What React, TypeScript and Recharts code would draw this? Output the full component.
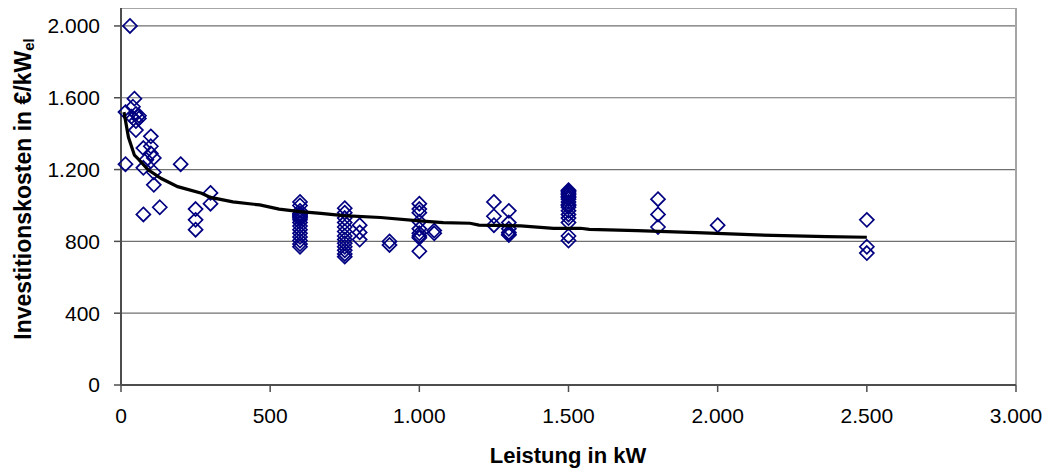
import React from 'react';
import { ScatterChart, Scatter, XAxis, YAxis, CartesianGrid, ReferenceLine } from 'recharts';

// Installed capacity of each plant (kW) and its specific investment cost (€/kW_el)
const plantCapacityKw = [
  15, 15, 30, 35, 40, 45, 50, 50, 60, 60, 50, 75, 75, 75, 85, 100, 100, 100, 110, 110, 110, 130, 200, 250, 250, 250, 300, 300,
  600, 600, 600, 600, 600, 600, 600, 600, 600, 600, 600, 600, 600, 600, 600, 600, 600, 600,
  750, 750, 750, 750, 750, 750, 750, 750, 750, 750, 750, 750, 750,
  800, 800, 800,
  900, 900,
  1000, 1000, 1000, 1000, 1000, 1000, 1000, 1000, 1000,
  1050, 1050,
  1250, 1250, 1250,
  1300, 1300, 1300, 1300, 1300, 1300,
  1500, 1500, 1500, 1500, 1500, 1500, 1500, 1500, 1500, 1500, 1500, 1500, 1500, 1500, 1500, 1500, 1500, 1500,
  1800, 1800, 1800,
  2000,
  2500, 2500, 2500,
];

const plantCostEurPerKw = [
  1520, 1230, 2000, 1495, 1550, 1595, 1510, 1470, 1500, 1485, 1420, 1320, 1210, 950, 1255, 1385, 1330, 1290, 1265, 1185, 1115, 990, 1230, 980, 920, 865, 1070, 1010,
  1020, 1000, 970, 955, 950, 945, 940, 935, 930, 920, 905, 885, 865, 845, 825, 805, 785, 770,
  985, 960, 930, 905, 880, 855, 830, 810, 790, 770, 750, 730, 715,
  890, 850, 810,
  800, 780,
  1010, 980, 960, 910, 870, 845, 830, 820, 745,
  860, 845,
  1020, 940, 890,
  970, 905, 870, 850, 840, 835,
  1085, 1080, 1075, 1065, 1060, 1050, 1045, 1035, 1020, 1005, 1000, 990, 970, 950, 930, 905, 830, 805,
  1035, 950, 880,
  890,
  920, 770, 735,
];

// Trend curve through the cost data
const trendCapacityKw = [10, 25, 45, 60, 90, 135, 190, 270, 300, 375, 465, 530, 600, 670, 745, 870, 1000, 1080, 1170, 1200, 1340, 1450, 1540, 1570, 1730, 1930, 2130, 2365, 2500];
const trendCostEurPerKw = [1520, 1380, 1280, 1255, 1200, 1150, 1105, 1068, 1045, 1020, 1003, 980, 966, 956, 943, 933, 914, 904, 901, 891, 886, 873, 873, 867, 860, 849, 836, 826, 823];

const xTicks = [0, 500, 1000, 1500, 2000, 2500, 3000];
const yTicks = [0, 400, 800, 1200, 1600, 2000];

const plants = plantCapacityKw.map((x, i) => ({ x, y: plantCostEurPerKw[i] }));
const trend = trendCapacityKw.map((x, i) => ({ x, y: trendCostEurPerKw[i] }));

const FONT = '"Liberation Sans", Arial, sans-serif';
const AXIS_COLOR = '#4d4d4d';

// German thousands separator: 2000 -> "2.000"
const formatDe = (v: number) => String(v).replace(/\B(?=(\d{3})+(?!\d))/g, '.');

const Diamond = (props: any) => {
  const { cx, cy } = props;
  if (cx == null || cy == null) return null;
  const r = 7;
  return (
    <polygon
      points={`${cx},${cy - r} ${cx + r},${cy} ${cx},${cy + r} ${cx - r},${cy}`}
      fill="none"
      stroke="#000080"
      strokeWidth={1.7}
    />
  );
};

const NoDot = () => null;

const YTitle = () => (
  <text
    x={15}
    y={181}
    transform="rotate(-90 15 181)"
    textAnchor="middle"
    dominantBaseline="central"
    fontFamily={FONT}
    fontWeight="bold"
    fontSize={23}
    fill="#000"
  >
    Investitionskosten in €/kW
    <tspan fontSize={15} dy={5}>el</tspan>
  </text>
);

const XTitle = () => (
  <text
    x={560}
    y={455}
    textAnchor="middle"
    fontFamily={FONT}
    fontWeight="bold"
    fontSize={22}
    fill="#000"
  >
    Leistung in kW
  </text>
);

export default function App() {
  return (
    <ScatterChart
      width={1034}
      height={462}
      margin={{ top: 0, right: 26, bottom: 0, left: 0 }}
      style={{ fontFamily: FONT }}
    >
      <CartesianGrid vertical={false} stroke="#707070" strokeWidth={1.2} />
      <XAxis
        type="number"
        dataKey="x"
        domain={[0, 3000]}
        ticks={xTicks}
        interval={0}
        height={85}
        tickFormatter={formatDe}
        tick={{ fill: '#000', fontSize: 21, fontFamily: FONT }}
        tickSize={7}
        tickMargin={16}
        axisLine={{ stroke: AXIS_COLOR, strokeWidth: 2 }}
        tickLine={{ stroke: AXIS_COLOR, strokeWidth: 1.5 }}
        label={<XTitle />}
      />
      <YAxis
        type="number"
        dataKey="y"
        domain={[0, 2100]}
        ticks={yTicks}
        interval={0}
        width={113}
        tickFormatter={formatDe}
        tick={{ fill: '#000', fontSize: 21, fontFamily: FONT }}
        tickSize={7}
        tickMargin={14}
        axisLine={{ stroke: AXIS_COLOR, strokeWidth: 2 }}
        tickLine={{ stroke: AXIS_COLOR, strokeWidth: 1.5 }}
        label={<YTitle />}
      />
      <ReferenceLine y={2100} stroke="#a6a6a6" strokeWidth={2} />
      <ReferenceLine x={3000} stroke="#a6a6a6" strokeWidth={2} />
      <Scatter data={plants} shape={<Diamond />} isAnimationActive={false} />
      <Scatter
        data={trend}
        shape={<NoDot />}
        line={{ stroke: '#000', strokeWidth: 3.2 }}
        lineType="joint"
        isAnimationActive={false}
      />
    </ScatterChart>
  );
}
